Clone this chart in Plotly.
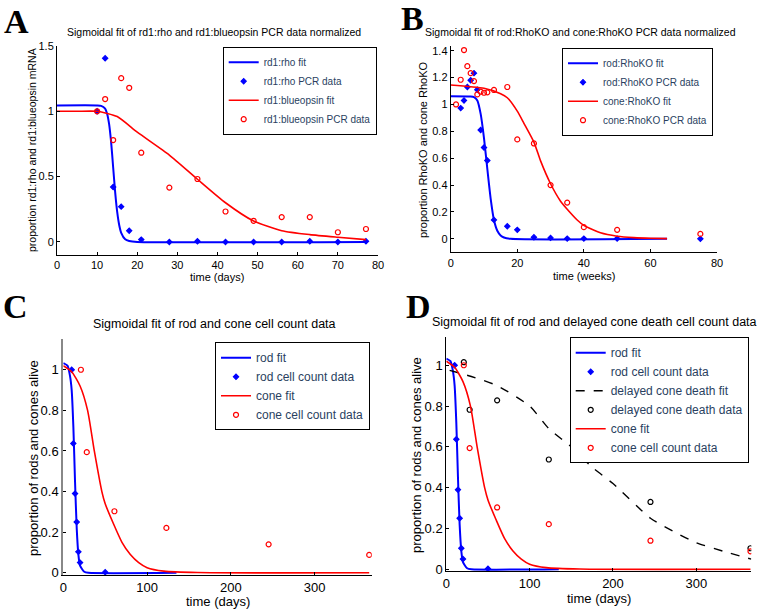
import plotly.graph_objects as go

W, H = 757, 611

# ---- panel A: rd1 PCR data (days) ----
a_days = [10, 12, 14, 16, 18, 21, 28, 35, 42, 49, 56, 63, 70, 77]
a_rho = [1.0, 1.406, 0.42, 0.27, 0.086, 0.018, 0.0, 0.005, 0.0, 0.0, 0.0, 0.005, 0.0, 0.005]
a_blue = [1.0, 1.094, 0.78, 1.254, 1.18, 0.683, 0.416, 0.482, 0.233, 0.162, 0.19, 0.19, 0.074, 0.099]
a_rho_fit_x = [0, 10, 11, 12, 12.5, 13, 13.5, 14, 14.5, 15, 15.5, 16, 17, 18, 20, 77]
a_rho_fit_y = [1.045, 1.045, 1.042, 1.02, 0.98, 0.9, 0.76, 0.57, 0.38, 0.23, 0.13, 0.07, 0.02, 0.007, 0.0, 0.0]
a_blue_fit_x = [0, 5, 10, 15, 20, 28, 35, 42, 49, 56, 63, 70, 77]
a_blue_fit_y = [1.0, 1.0, 1.0, 0.96, 0.84, 0.665, 0.48, 0.30, 0.16, 0.086, 0.056, 0.036, 0.018]

# ---- panel B: RhoKO PCR data (weeks) ----
b_rod_wk = [3, 4, 5, 6, 7, 8, 9, 10, 11, 13, 17, 20, 25, 30, 35, 40, 50, 75]
b_rod = [0.973, 1.03, 1.13, 1.18, 1.233, 1.11, 0.81, 0.68, 0.583, 0.141, 0.094, 0.067, 0.012, 0.007, 0.002, 0.002, 0.002, 0.0]
b_cone_wk = [1.6, 3, 4, 5, 6, 7, 8, 9, 10, 11, 13, 17, 20, 25, 30, 35, 40, 50, 75]
b_cone = [1.0, 1.184, 1.405, 1.285, 1.233, 1.174, 1.075, 1.095, 1.087, 1.09, 1.108, 1.13, 0.74, 0.71, 0.40, 0.27, 0.087, 0.067, 0.037]
b_rod_fit_x = [0, 6, 7, 8, 9, 10, 11, 12, 13, 14, 15, 16, 18, 65]
b_rod_fit_y = [1.062, 1.06, 1.055, 1.03, 0.93, 0.75, 0.52, 0.3, 0.14, 0.06, 0.025, 0.01, 0.0, 0.0]
b_cone_fit_x = [0, 10, 15, 17, 20, 22, 25, 27, 30, 33, 35, 38, 40, 45, 50, 55, 60, 65]
b_cone_fit_y = [1.145, 1.12, 1.08, 1.05, 0.95, 0.86, 0.72, 0.58, 0.41, 0.28, 0.22, 0.14, 0.1, 0.045, 0.02, 0.009, 0.004, 0.002]

# ---- panels C/D: cell counts (days) ----
rod_days = [10, 12, 14, 16, 18, 20, 50]
rod_count = [1.0, 0.637, 0.39, 0.25, 0.103, 0.05, 0.003]
cone_days = [21, 28, 61, 123, 245, 365]
cone_count = [1.0, 0.594, 0.303, 0.221, 0.14, 0.088]
delayed_days = [21, 28, 61, 123, 245, 365]
delayed_count = [1.015, 0.782, 0.828, 0.538, 0.33, 0.103]
rod_fit_x = [0, 5, 8, 10, 12, 14, 16, 18, 20, 25, 30, 135]
rod_fit_y = [1.033, 1.02, 0.97, 0.9, 0.72, 0.45, 0.22, 0.09, 0.035, 0.005, 0.0, 0.0]
cone_fit_x = [0, 10, 20, 29, 37, 46, 50, 60, 70, 80, 90, 100, 120, 160, 365]
cone_fit_y = [1.02, 0.99, 0.92, 0.8, 0.6, 0.4, 0.34, 0.24, 0.15, 0.09, 0.05, 0.025, 0.008, 0.001, 0.0]
delayed_fit_x = [4, 30, 61, 100, 123, 150, 175, 200, 245, 275, 300, 335, 366]
delayed_fit_y = [0.975, 0.945, 0.9, 0.8, 0.69, 0.6, 0.5, 0.42, 0.25, 0.18, 0.13, 0.085, 0.05]

BLUE, RED = "#0000ff", "#ff0000"
FONT = "Liberation Sans, Arial, sans-serif"


def px_x(p):
    return p / W


def px_y(p):
    return 1 - p / H


fig = go.Figure()


def fit(x, y, name, color, xa, ya, leg, dash="solid", width=1.6):
    fig.add_trace(go.Scatter(x=x, y=y, mode="lines", name=name, line=dict(color=color, width=width, dash=dash, shape="spline", smoothing=0.6),
                             xaxis=xa, yaxis=ya, legend=leg))


def pts(x, y, name, color, xa, ya, leg, symbol="circle-open", size=5):
    fig.add_trace(go.Scatter(x=x, y=y, mode="markers", name=name,
                             marker=dict(symbol=symbol, size=size, color=color, line=dict(color=color, width=1.2)),
                             xaxis=xa, yaxis=ya, legend=leg))


# A
fit(a_rho_fit_x, a_rho_fit_y, "rd1:rho fit", BLUE, "x", "y", "legend", width=2)
pts(a_days, a_rho, "rd1:rho PCR data", BLUE, "x", "y", "legend", "diamond", 4)
fit(a_blue_fit_x, a_blue_fit_y, "rd1:blueopsin fit", RED, "x", "y", "legend")
pts(a_days, a_blue, "rd1:blueopsin PCR data", RED, "x", "y", "legend")
# B
fit(b_rod_fit_x, b_rod_fit_y, "rod:RhoKO fit", BLUE, "x2", "y2", "legend2", width=2)
pts(b_rod_wk, b_rod, "rod:RhoKO PCR data", BLUE, "x2", "y2", "legend2", "diamond", 4)
fit(b_cone_fit_x, b_cone_fit_y, "cone:RhoKO fit", RED, "x2", "y2", "legend2")
pts(b_cone_wk, b_cone, "cone:RhoKO PCR data", RED, "x2", "y2", "legend2")
# C
fit(rod_fit_x, rod_fit_y, "rod fit", BLUE, "x3", "y3", "legend3", width=2)
pts(rod_days, rod_count, "rod cell count data", BLUE, "x3", "y3", "legend3", "diamond", 4)
fit(cone_fit_x, cone_fit_y, "cone fit", RED, "x3", "y3", "legend3")
pts(cone_days, cone_count, "cone cell count data", RED, "x3", "y3", "legend3")
# D
fit(rod_fit_x, rod_fit_y, "rod fit", BLUE, "x4", "y4", "legend4", width=2)
pts(rod_days, rod_count, "rod cell count data", BLUE, "x4", "y4", "legend4", "diamond", 4)
fit(delayed_fit_x, delayed_fit_y, "delayed cone death fit", "black", "x4", "y4", "legend4", dash="dash", width=1.4)
pts(delayed_days, delayed_count, "delayed cone death data", "black", "x4", "y4", "legend4")
fit(cone_fit_x, cone_fit_y, "cone fit", RED, "x4", "y4", "legend4")
pts(cone_days, cone_count, "cone cell count data", RED, "x4", "y4", "legend4")

# axes boxes in pixels: left, right, top, bottom
boxes = {
    "": (57, 378, 46, 255),
    "2": (450.7, 717, 46, 252.3),
    "3": (63.3, 371.7, 339.3, 575),
    "4": (446.3, 751.3, 336.7, 571.3),
}
xr = {"": [0, 80], "2": [0, 80], "3": [0, 368], "4": [0, 366]}
yr = {"": [-0.1, 1.5], "2": [-0.1, 1.435], "3": [-0.011, 1.15], "4": [-0.01, 1.14]}
xt = {"": list(range(0, 81, 10)), "2": [0, 20, 40, 60, 80], "3": [0, 100, 200, 300], "4": [0, 100, 200, 300]}
yt = {"": [0, 0.5, 1, 1.5], "2": [0, 0.2, 0.4, 0.6, 0.8, 1, 1.2, 1.4], "3": [0, 0.2, 0.4, 0.6, 0.8, 1], "4": [0, 0.2, 0.4, 0.6, 0.8, 1]}
fs = {"": 11, "2": 11, "3": 13, "4": 13}

for k, (l, r, t, b) in boxes.items():
    common = dict(showgrid=False, zeroline=False, showline=True, linecolor="black", linewidth=1, automargin=False,
                  ticks="inside", ticklen=3, tickcolor="black", tickfont=dict(family=FONT, size=fs[k], color="black"))
    fig.update_layout({
        "xaxis" + k: dict(domain=[px_x(l), px_x(r)], range=xr[k], tickvals=xt[k], anchor="y" + k, **common),
        "yaxis" + k: dict(domain=[px_y(b), px_y(t)], range=yr[k], tickvals=yt[k], anchor="x" + k, **common),
    })
fig.update_layout(yaxis3_linecolor="#888888", yaxis3_linewidth=2)

legend_style = dict(bgcolor="white", bordercolor="black", borderwidth=1, xanchor="right", yanchor="top",
                    itemwidth=30, tracegroupgap=0)
fig.update_layout(
    legend=dict(x=px_x(376.7), y=px_y(46.7), font=dict(family=FONT, size=10), **legend_style),
    legend2=dict(x=px_x(713), y=px_y(47.7), font=dict(family=FONT, size=10), **legend_style),
    legend3=dict(x=px_x(370), y=px_y(342.3), font=dict(family=FONT, size=12), **legend_style),
    legend4=dict(x=px_x(748.7), y=px_y(337.3), font=dict(family=FONT, size=12), **legend_style),
)

ann = []


def text(x, y, s, size, angle=0, family=FONT, bold=False):
    ann.append(dict(x=px_x(x), y=px_y(y), xref="paper", yref="paper", text=f"<b>{s}</b>" if bold else s,
                    showarrow=False, textangle=angle, xanchor="center", yanchor="middle",
                    font=dict(family=family, size=size, color="black")))


# titles
text(214, 32, "Sigmoidal fit of rd1:rho and rd1:blueopsin PCR data normalized", 10.5)
text(580, 32, "Sigmoidal fit of rod:RhoKO and cone:RhoKO PCR data normalized", 10.5)
text(214, 323.5, "Sigmoidal fit of rod and cone cell count data", 12.5)
text(594, 321.5, "Sigmoidal fit of rod and delayed cone death cell count data", 12.5)
# axis labels
text(217, 277, "time (days)", 11)
text(584, 276.5, "time (weeks)", 11)
text(218, 601.5, "time (days)", 13)
text(599, 598, "time (days)", 13)
text(32, 150, "proportion rd1:rho and rd1:blueopsin mRNA", 10.5, -90)
text(423, 150, "proportion RhoKO and cone RhoKO", 11, -90)
text(33, 458, "proportion of rods and cones alive", 13, -90)
text(416, 455, "proportion of rods and cones alive", 13, -90)
# panel letters
SERIF = "Liberation Serif, Times New Roman, serif"
text(16, 21, "A", 34, family=SERIF, bold=True)
text(412, 19, "B", 34, family=SERIF, bold=True)
text(15, 306, "C", 34, family=SERIF, bold=True)
text(418, 306, "D", 34, family=SERIF, bold=True)

fig.update_layout(annotations=ann, width=W, height=H, autosize=False,
                  margin=dict(l=0, r=0, t=0, b=0, autoexpand=False), paper_bgcolor="white", plot_bgcolor="white")

# the page body has a default 8px margin; drop it so the figure sits at the window's corner
fig.write_html("out.html", config={"displayModeBar": False},
               post_script="document.body.style.margin='0px';document.body.style.overflow='hidden';")
